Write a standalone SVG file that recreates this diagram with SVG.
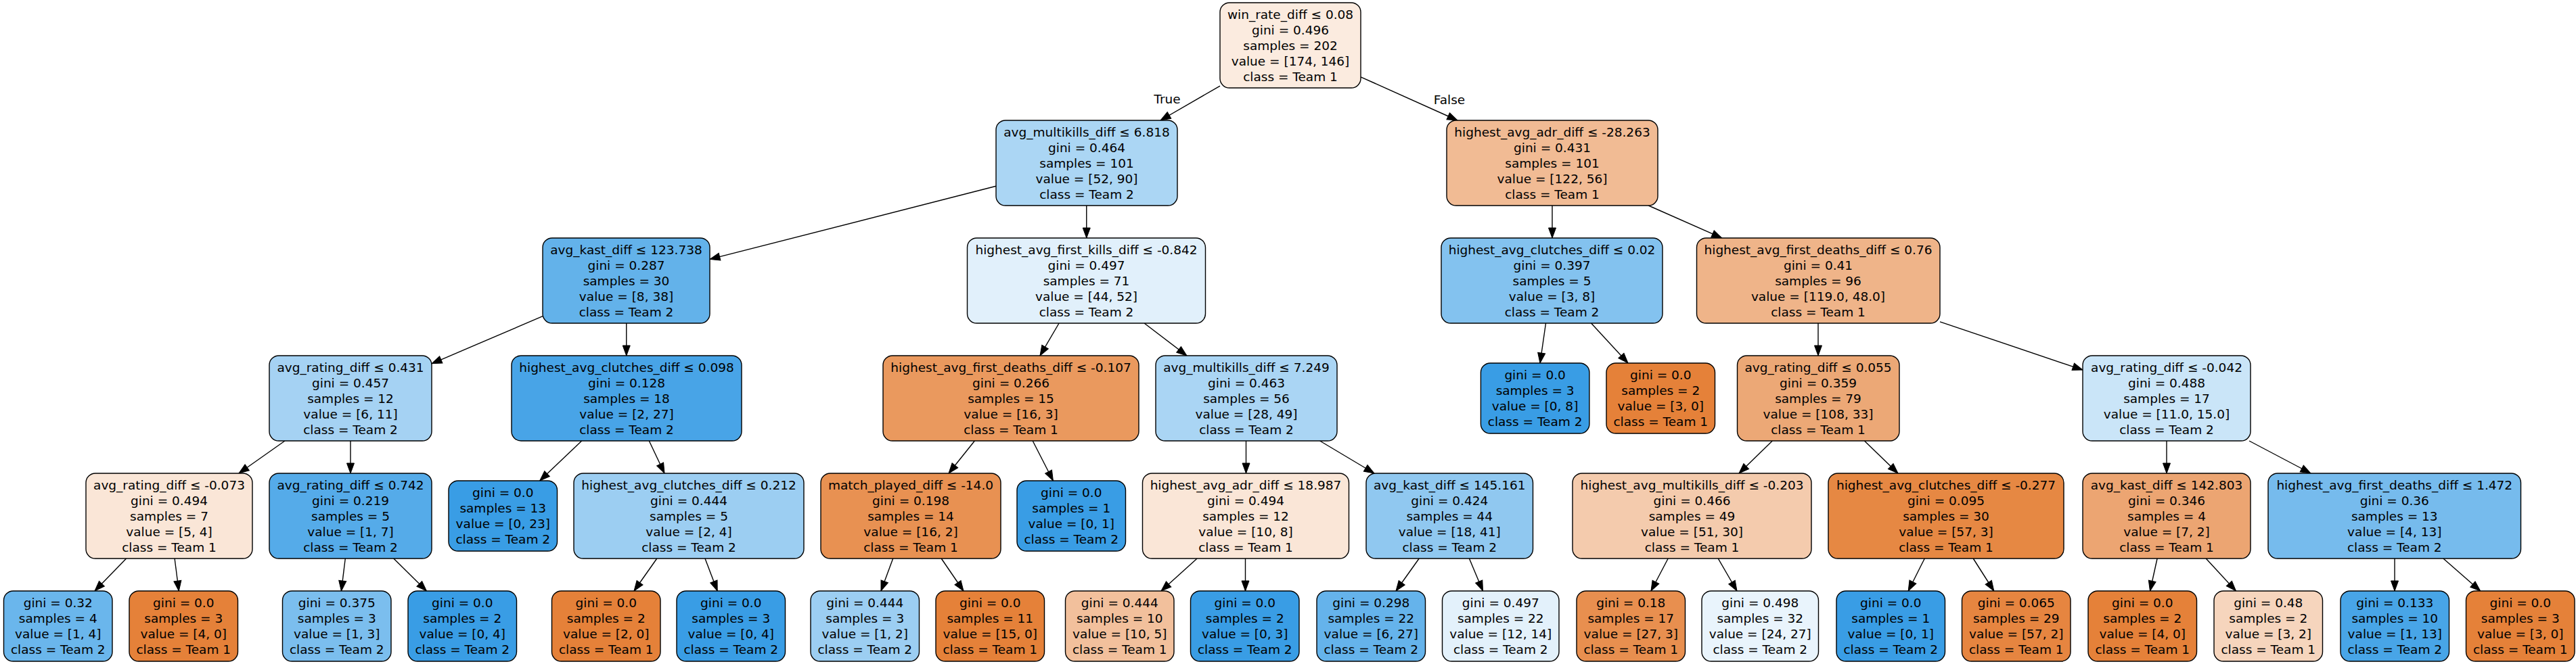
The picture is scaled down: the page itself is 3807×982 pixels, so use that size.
<svg xmlns="http://www.w3.org/2000/svg" width="3807" height="982" viewBox="0 0 3807 982">
<style>
.node rect { stroke:#000; stroke-width:1.4; }
text { font-family:"DejaVu Sans","Liberation Sans",sans-serif; font-size:18.5px; fill:#000; text-anchor:middle; }
#edges line { stroke:#000; stroke-width:1.4; marker-end:url(#arrow); }
</style>
<defs>
<marker id="arrow" markerUnits="userSpaceOnUse" markerWidth="15" markerHeight="11" refX="15" refY="5.5" orient="auto" overflow="visible">
<path d="M0,0 L15,5.5 L0,11 z" fill="#000" stroke="#000" stroke-width="1"/>
</marker>
</defs>
<rect x="0" y="0" width="3807" height="982" fill="#fff"/>
<g id="edges">
<line x1="1803" y1="127.1" x2="1715" y2="178"/>
<line x1="2011" y1="113.8" x2="2153.9" y2="178"/>
<line x1="1472" y1="275.3" x2="1049" y2="383.4"/>
<line x1="1605.75" y1="304" x2="1605.75" y2="352"/>
<line x1="802" y1="467.7" x2="638" y2="537.8"/>
<line x1="925.75" y1="478" x2="925.75" y2="526"/>
<line x1="421" y1="652" x2="353" y2="700"/>
<line x1="518" y1="652" x2="518" y2="700"/>
<line x1="186.6" y1="826" x2="140" y2="874"/>
<line x1="258.1" y1="826" x2="264.3" y2="874"/>
<line x1="510.3" y1="826" x2="504.4" y2="874"/>
<line x1="581.8" y1="826" x2="630.4" y2="874"/>
<line x1="859.7" y1="652" x2="797.7" y2="711"/>
<line x1="959.3" y1="652" x2="982" y2="700"/>
<line x1="970.8" y1="826" x2="937" y2="874"/>
<line x1="1042" y1="826" x2="1060.2" y2="874"/>
<line x1="1565.1" y1="478" x2="1537" y2="526"/>
<line x1="1691.1" y1="478" x2="1754" y2="526"/>
<line x1="1440.4" y1="652" x2="1402" y2="700"/>
<line x1="1526.2" y1="652" x2="1556.4" y2="711"/>
<line x1="1319.7" y1="826" x2="1302" y2="874"/>
<line x1="1391.2" y1="826" x2="1424" y2="874"/>
<line x1="1841.5" y1="652" x2="1841.5" y2="700"/>
<line x1="1950.6" y1="652" x2="2031" y2="700"/>
<line x1="1769.1" y1="826" x2="1716" y2="874"/>
<line x1="1840.5" y1="826" x2="1840.5" y2="874"/>
<line x1="2097.2" y1="826" x2="2063" y2="874"/>
<line x1="2171.4" y1="826" x2="2191.5" y2="874"/>
<line x1="2294" y1="304" x2="2294" y2="352"/>
<line x1="2436.3" y1="304" x2="2544.7" y2="352"/>
<line x1="2284.5" y1="478" x2="2276" y2="537"/>
<line x1="2351.6" y1="478" x2="2406" y2="537"/>
<line x1="2687" y1="478" x2="2687" y2="526"/>
<line x1="2867" y1="475.8" x2="3078" y2="547.1"/>
<line x1="2619.3" y1="652" x2="2570" y2="700"/>
<line x1="2755.4" y1="652" x2="2805" y2="700"/>
<line x1="2465.2" y1="826" x2="2440" y2="874"/>
<line x1="2539.2" y1="826" x2="2567" y2="874"/>
<line x1="2844.3" y1="826" x2="2820.2" y2="874"/>
<line x1="2916.2" y1="826" x2="2946.8" y2="874"/>
<line x1="3202" y1="652" x2="3202" y2="700"/>
<line x1="3324" y1="652" x2="3415" y2="700"/>
<line x1="3188.1" y1="826" x2="3177.5" y2="874"/>
<line x1="3260.2" y1="826" x2="3304.5" y2="874"/>
<line x1="3539" y1="826" x2="3539" y2="874"/>
<line x1="3610.9" y1="826" x2="3665.7" y2="874"/>
<text x="1725" y="153">True</text>
<text x="2142" y="154">False</text>
</g>

<g id="n0" class="node"><rect x="1803" y="4" width="208" height="126" rx="14" fill="#fbebdf"/><text y="27.6"><tspan x="1907">win_rate_diff ≤ 0.08</tspan><tspan x="1907" dy="23.1">gini = 0.496</tspan><tspan x="1907" dy="23.1">samples = 202</tspan><tspan x="1907" dy="23.1">value = [174, 146]</tspan><tspan x="1907" dy="23.1">class = Team 1</tspan></text></g>

<g id="n1" class="node"><rect x="1472" y="178" width="268" height="126" rx="14" fill="#abd6f4"/><text y="201.6"><tspan x="1606">avg_multikills_diff ≤ 6.818</tspan><tspan x="1606" dy="23.1">gini = 0.464</tspan><tspan x="1606" dy="23.1">samples = 101</tspan><tspan x="1606" dy="23.1">value = [52, 90]</tspan><tspan x="1606" dy="23.1">class = Team 2</tspan></text></g>

<g id="n28" class="node"><rect x="2138" y="178" width="312" height="126" rx="14" fill="#f1bb94"/><text y="201.6"><tspan x="2294">highest_avg_adr_diff ≤ -28.263</tspan><tspan x="2294" dy="23.1">gini = 0.431</tspan><tspan x="2294" dy="23.1">samples = 101</tspan><tspan x="2294" dy="23.1">value = [122, 56]</tspan><tspan x="2294" dy="23.1">class = Team 1</tspan></text></g>

<g id="n2" class="node"><rect x="802" y="352" width="247" height="126" rx="14" fill="#63b2ea"/><text y="375.6"><tspan x="925.5">avg_kast_diff ≤ 123.738</tspan><tspan x="925.5" dy="23.1">gini = 0.287</tspan><tspan x="925.5" dy="23.1">samples = 30</tspan><tspan x="925.5" dy="23.1">value = [8, 38]</tspan><tspan x="925.5" dy="23.1">class = Team 2</tspan></text></g>

<g id="n15" class="node"><rect x="1429.5" y="352" width="352" height="126" rx="14" fill="#e1f0fb"/><text y="375.6"><tspan x="1605.5">highest_avg_first_kills_diff ≤ -0.842</tspan><tspan x="1605.5" dy="23.1">gini = 0.497</tspan><tspan x="1605.5" dy="23.1">samples = 71</tspan><tspan x="1605.5" dy="23.1">value = [44, 52]</tspan><tspan x="1605.5" dy="23.1">class = Team 2</tspan></text></g>

<g id="n29" class="node"><rect x="2130" y="352" width="327" height="126" rx="14" fill="#83c2ef"/><text y="375.6"><tspan x="2293.5">highest_avg_clutches_diff ≤ 0.02</tspan><tspan x="2293.5" dy="23.1">gini = 0.397</tspan><tspan x="2293.5" dy="23.1">samples = 5</tspan><tspan x="2293.5" dy="23.1">value = [3, 8]</tspan><tspan x="2293.5" dy="23.1">class = Team 2</tspan></text></g>

<g id="n32" class="node"><rect x="2507.5" y="352" width="359.5" height="126" rx="14" fill="#efb489"/><text y="375.6"><tspan x="2687">highest_avg_first_deaths_diff ≤ 0.76</tspan><tspan x="2687" dy="23.1">gini = 0.41</tspan><tspan x="2687" dy="23.1">samples = 96</tspan><tspan x="2687" dy="23.1">value = [119.0, 48.0]</tspan><tspan x="2687" dy="23.1">class = Team 1</tspan></text></g>

<g id="n3" class="node"><rect x="398" y="526" width="240" height="126" rx="14" fill="#a5d2f3"/><text y="549.6"><tspan x="518">avg_rating_diff ≤ 0.431</tspan><tspan x="518" dy="23.1">gini = 0.457</tspan><tspan x="518" dy="23.1">samples = 12</tspan><tspan x="518" dy="23.1">value = [6, 11]</tspan><tspan x="518" dy="23.1">class = Team 2</tspan></text></g>

<g id="n10" class="node"><rect x="756" y="526" width="340" height="126" rx="14" fill="#48a4e7"/><text y="549.6"><tspan x="926">highest_avg_clutches_diff ≤ 0.098</tspan><tspan x="926" dy="23.1">gini = 0.128</tspan><tspan x="926" dy="23.1">samples = 18</tspan><tspan x="926" dy="23.1">value = [2, 27]</tspan><tspan x="926" dy="23.1">class = Team 2</tspan></text></g>

<g id="n16" class="node"><rect x="1305" y="526" width="378" height="126" rx="14" fill="#ea995e"/><text y="549.6"><tspan x="1494">highest_avg_first_deaths_diff ≤ -0.107</tspan><tspan x="1494" dy="23.1">gini = 0.266</tspan><tspan x="1494" dy="23.1">samples = 15</tspan><tspan x="1494" dy="23.1">value = [16, 3]</tspan><tspan x="1494" dy="23.1">class = Team 1</tspan></text></g>

<g id="n21" class="node"><rect x="1708" y="526" width="268" height="126" rx="14" fill="#aad5f4"/><text y="549.6"><tspan x="1842">avg_multikills_diff ≤ 7.249</tspan><tspan x="1842" dy="23.1">gini = 0.463</tspan><tspan x="1842" dy="23.1">samples = 56</tspan><tspan x="1842" dy="23.1">value = [28, 49]</tspan><tspan x="1842" dy="23.1">class = Team 2</tspan></text></g>

<g id="n30" class="node"><rect x="2188.4" y="537" width="160.5" height="104" rx="14" fill="#399de5"/><text y="561.15"><tspan x="2268.6">gini = 0.0</tspan><tspan x="2268.6" dy="23.1">samples = 3</tspan><tspan x="2268.6" dy="23.1">value = [0, 8]</tspan><tspan x="2268.6" dy="23.1">class = Team 2</tspan></text></g>

<g id="n31" class="node"><rect x="2374" y="537" width="160.5" height="104" rx="14" fill="#e58139"/><text y="561.15"><tspan x="2454.25">gini = 0.0</tspan><tspan x="2454.25" dy="23.1">samples = 2</tspan><tspan x="2454.25" dy="23.1">value = [3, 0]</tspan><tspan x="2454.25" dy="23.1">class = Team 1</tspan></text></g>

<g id="n33" class="node"><rect x="2567.5" y="526" width="239.5" height="126" rx="14" fill="#eca876"/><text y="549.6"><tspan x="2687">avg_rating_diff ≤ 0.055</tspan><tspan x="2687" dy="23.1">gini = 0.359</tspan><tspan x="2687" dy="23.1">samples = 79</tspan><tspan x="2687" dy="23.1">value = [108, 33]</tspan><tspan x="2687" dy="23.1">class = Team 1</tspan></text></g>

<g id="n40" class="node"><rect x="3078" y="526" width="248" height="126" rx="14" fill="#cae5f8"/><text y="549.6"><tspan x="3202">avg_rating_diff ≤ -0.042</tspan><tspan x="3202" dy="23.1">gini = 0.488</tspan><tspan x="3202" dy="23.1">samples = 17</tspan><tspan x="3202" dy="23.1">value = [11.0, 15.0]</tspan><tspan x="3202" dy="23.1">class = Team 2</tspan></text></g>

<g id="n4" class="node"><rect x="127" y="700" width="246" height="126" rx="14" fill="#fae6d7"/><text y="723.6"><tspan x="250">avg_rating_diff ≤ -0.073</tspan><tspan x="250" dy="23.1">gini = 0.494</tspan><tspan x="250" dy="23.1">samples = 7</tspan><tspan x="250" dy="23.1">value = [5, 4]</tspan><tspan x="250" dy="23.1">class = Team 1</tspan></text></g>

<g id="n7" class="node"><rect x="398" y="700" width="240" height="126" rx="14" fill="#55abe9"/><text y="723.6"><tspan x="518">avg_rating_diff ≤ 0.742</tspan><tspan x="518" dy="23.1">gini = 0.219</tspan><tspan x="518" dy="23.1">samples = 5</tspan><tspan x="518" dy="23.1">value = [1, 7]</tspan><tspan x="518" dy="23.1">class = Team 2</tspan></text></g>

<g id="n11" class="node"><rect x="663" y="711" width="160.5" height="104" rx="14" fill="#399de5"/><text y="735.15"><tspan x="743.25">gini = 0.0</tspan><tspan x="743.25" dy="23.1">samples = 13</tspan><tspan x="743.25" dy="23.1">value = [0, 23]</tspan><tspan x="743.25" dy="23.1">class = Team 2</tspan></text></g>

<g id="n12" class="node"><rect x="848" y="700" width="340" height="126" rx="14" fill="#9ccef2"/><text y="723.6"><tspan x="1018">highest_avg_clutches_diff ≤ 0.212</tspan><tspan x="1018" dy="23.1">gini = 0.444</tspan><tspan x="1018" dy="23.1">samples = 5</tspan><tspan x="1018" dy="23.1">value = [2, 4]</tspan><tspan x="1018" dy="23.1">class = Team 2</tspan></text></g>

<g id="n17" class="node"><rect x="1213" y="700" width="266" height="126" rx="14" fill="#e89152"/><text y="723.6"><tspan x="1346">match_played_diff ≤ -14.0</tspan><tspan x="1346" dy="23.1">gini = 0.198</tspan><tspan x="1346" dy="23.1">samples = 14</tspan><tspan x="1346" dy="23.1">value = [16, 2]</tspan><tspan x="1346" dy="23.1">class = Team 1</tspan></text></g>

<g id="n20" class="node"><rect x="1503" y="711" width="160.5" height="104" rx="14" fill="#399de5"/><text y="735.15"><tspan x="1583.25">gini = 0.0</tspan><tspan x="1583.25" dy="23.1">samples = 1</tspan><tspan x="1583.25" dy="23.1">value = [0, 1]</tspan><tspan x="1583.25" dy="23.1">class = Team 2</tspan></text></g>

<g id="n22" class="node"><rect x="1688.5" y="700" width="305" height="126" rx="14" fill="#fae6d7"/><text y="723.6"><tspan x="1841">highest_avg_adr_diff ≤ 18.987</tspan><tspan x="1841" dy="23.1">gini = 0.494</tspan><tspan x="1841" dy="23.1">samples = 12</tspan><tspan x="1841" dy="23.1">value = [10, 8]</tspan><tspan x="1841" dy="23.1">class = Team 1</tspan></text></g>

<g id="n25" class="node"><rect x="2019" y="700" width="246.5" height="126" rx="14" fill="#90c8f0"/><text y="723.6"><tspan x="2142.25">avg_kast_diff ≤ 145.161</tspan><tspan x="2142.25" dy="23.1">gini = 0.424</tspan><tspan x="2142.25" dy="23.1">samples = 44</tspan><tspan x="2142.25" dy="23.1">value = [18, 41]</tspan><tspan x="2142.25" dy="23.1">class = Team 2</tspan></text></g>

<g id="n34" class="node"><rect x="2324" y="700" width="353" height="126" rx="14" fill="#f4cbad"/><text y="723.6"><tspan x="2500.5">highest_avg_multikills_diff ≤ -0.203</tspan><tspan x="2500.5" dy="23.1">gini = 0.466</tspan><tspan x="2500.5" dy="23.1">samples = 49</tspan><tspan x="2500.5" dy="23.1">value = [51, 30]</tspan><tspan x="2500.5" dy="23.1">class = Team 1</tspan></text></g>

<g id="n37" class="node"><rect x="2702" y="700" width="348" height="126" rx="14" fill="#e68843"/><text y="723.6"><tspan x="2876">highest_avg_clutches_diff ≤ -0.277</tspan><tspan x="2876" dy="23.1">gini = 0.095</tspan><tspan x="2876" dy="23.1">samples = 30</tspan><tspan x="2876" dy="23.1">value = [57, 3]</tspan><tspan x="2876" dy="23.1">class = Team 1</tspan></text></g>

<g id="n41" class="node"><rect x="3078" y="700" width="248" height="126" rx="14" fill="#eca572"/><text y="723.6"><tspan x="3202">avg_kast_diff ≤ 142.803</tspan><tspan x="3202" dy="23.1">gini = 0.346</tspan><tspan x="3202" dy="23.1">samples = 4</tspan><tspan x="3202" dy="23.1">value = [7, 2]</tspan><tspan x="3202" dy="23.1">class = Team 1</tspan></text></g>

<g id="n44" class="node"><rect x="3352" y="700" width="373.5" height="126" rx="14" fill="#76bbed"/><text y="723.6"><tspan x="3538.75">highest_avg_first_deaths_diff ≤ 1.472</tspan><tspan x="3538.75" dy="23.1">gini = 0.36</tspan><tspan x="3538.75" dy="23.1">samples = 13</tspan><tspan x="3538.75" dy="23.1">value = [4, 13]</tspan><tspan x="3538.75" dy="23.1">class = Team 2</tspan></text></g>

<g id="n5" class="node"><rect x="5.5" y="874" width="160.5" height="104" rx="14" fill="#6ab6ec"/><text y="898.15"><tspan x="85.75">gini = 0.32</tspan><tspan x="85.75" dy="23.1">samples = 4</tspan><tspan x="85.75" dy="23.1">value = [1, 4]</tspan><tspan x="85.75" dy="23.1">class = Team 2</tspan></text></g>

<g id="n6" class="node"><rect x="191" y="874" width="160.5" height="104" rx="14" fill="#e58139"/><text y="898.15"><tspan x="271.25">gini = 0.0</tspan><tspan x="271.25" dy="23.1">samples = 3</tspan><tspan x="271.25" dy="23.1">value = [4, 0]</tspan><tspan x="271.25" dy="23.1">class = Team 1</tspan></text></g>

<g id="n8" class="node"><rect x="417.5" y="874" width="160.5" height="104" rx="14" fill="#7bbeee"/><text y="898.15"><tspan x="497.75">gini = 0.375</tspan><tspan x="497.75" dy="23.1">samples = 3</tspan><tspan x="497.75" dy="23.1">value = [1, 3]</tspan><tspan x="497.75" dy="23.1">class = Team 2</tspan></text></g>

<g id="n9" class="node"><rect x="603" y="874" width="160.5" height="104" rx="14" fill="#399de5"/><text y="898.15"><tspan x="683.25">gini = 0.0</tspan><tspan x="683.25" dy="23.1">samples = 2</tspan><tspan x="683.25" dy="23.1">value = [0, 4]</tspan><tspan x="683.25" dy="23.1">class = Team 2</tspan></text></g>

<g id="n13" class="node"><rect x="815.5" y="874" width="160.5" height="104" rx="14" fill="#e58139"/><text y="898.15"><tspan x="895.75">gini = 0.0</tspan><tspan x="895.75" dy="23.1">samples = 2</tspan><tspan x="895.75" dy="23.1">value = [2, 0]</tspan><tspan x="895.75" dy="23.1">class = Team 1</tspan></text></g>

<g id="n14" class="node"><rect x="1000" y="874" width="160.5" height="104" rx="14" fill="#399de5"/><text y="898.15"><tspan x="1080.25">gini = 0.0</tspan><tspan x="1080.25" dy="23.1">samples = 3</tspan><tspan x="1080.25" dy="23.1">value = [0, 4]</tspan><tspan x="1080.25" dy="23.1">class = Team 2</tspan></text></g>

<g id="n18" class="node"><rect x="1198" y="874" width="160.5" height="104" rx="14" fill="#9ccef2"/><text y="898.15"><tspan x="1278.25">gini = 0.444</tspan><tspan x="1278.25" dy="23.1">samples = 3</tspan><tspan x="1278.25" dy="23.1">value = [1, 2]</tspan><tspan x="1278.25" dy="23.1">class = Team 2</tspan></text></g>

<g id="n19" class="node"><rect x="1383" y="874" width="160.5" height="104" rx="14" fill="#e58139"/><text y="898.15"><tspan x="1463.25">gini = 0.0</tspan><tspan x="1463.25" dy="23.1">samples = 11</tspan><tspan x="1463.25" dy="23.1">value = [15, 0]</tspan><tspan x="1463.25" dy="23.1">class = Team 1</tspan></text></g>

<g id="n23" class="node"><rect x="1574.5" y="874" width="160.5" height="104" rx="14" fill="#f2c09c"/><text y="898.15"><tspan x="1654.75">gini = 0.444</tspan><tspan x="1654.75" dy="23.1">samples = 10</tspan><tspan x="1654.75" dy="23.1">value = [10, 5]</tspan><tspan x="1654.75" dy="23.1">class = Team 1</tspan></text></g>

<g id="n24" class="node"><rect x="1759.5" y="874" width="160.5" height="104" rx="14" fill="#399de5"/><text y="898.15"><tspan x="1839.75">gini = 0.0</tspan><tspan x="1839.75" dy="23.1">samples = 2</tspan><tspan x="1839.75" dy="23.1">value = [0, 3]</tspan><tspan x="1839.75" dy="23.1">class = Team 2</tspan></text></g>

<g id="n26" class="node"><rect x="1946" y="874" width="160.5" height="104" rx="14" fill="#65b3eb"/><text y="898.15"><tspan x="2026.25">gini = 0.298</tspan><tspan x="2026.25" dy="23.1">samples = 22</tspan><tspan x="2026.25" dy="23.1">value = [6, 27]</tspan><tspan x="2026.25" dy="23.1">class = Team 2</tspan></text></g>

<g id="n27" class="node"><rect x="2131.5" y="874" width="172.5" height="104" rx="14" fill="#e3f1fb"/><text y="898.15"><tspan x="2217.75">gini = 0.497</tspan><tspan x="2217.75" dy="23.1">samples = 22</tspan><tspan x="2217.75" dy="23.1">value = [12, 14]</tspan><tspan x="2217.75" dy="23.1">class = Team 2</tspan></text></g>

<g id="n35" class="node"><rect x="2330" y="874" width="160.5" height="104" rx="14" fill="#e88f4f"/><text y="898.15"><tspan x="2410.25">gini = 0.18</tspan><tspan x="2410.25" dy="23.1">samples = 17</tspan><tspan x="2410.25" dy="23.1">value = [27, 3]</tspan><tspan x="2410.25" dy="23.1">class = Team 1</tspan></text></g>

<g id="n36" class="node"><rect x="2515" y="874" width="172.5" height="104" rx="14" fill="#e9f4fc"/><text y="898.15"><tspan x="2601.25">gini = 0.498</tspan><tspan x="2601.25" dy="23.1">samples = 32</tspan><tspan x="2601.25" dy="23.1">value = [24, 27]</tspan><tspan x="2601.25" dy="23.1">class = Team 2</tspan></text></g>

<g id="n38" class="node"><rect x="2714" y="874" width="160.5" height="104" rx="14" fill="#399de5"/><text y="898.15"><tspan x="2794.25">gini = 0.0</tspan><tspan x="2794.25" dy="23.1">samples = 1</tspan><tspan x="2794.25" dy="23.1">value = [0, 1]</tspan><tspan x="2794.25" dy="23.1">class = Team 2</tspan></text></g>

<g id="n39" class="node"><rect x="2899.5" y="874" width="160.5" height="104" rx="14" fill="#e68540"/><text y="898.15"><tspan x="2979.75">gini = 0.065</tspan><tspan x="2979.75" dy="23.1">samples = 29</tspan><tspan x="2979.75" dy="23.1">value = [57, 2]</tspan><tspan x="2979.75" dy="23.1">class = Team 1</tspan></text></g>

<g id="n42" class="node"><rect x="3086" y="874" width="160.5" height="104" rx="14" fill="#e58139"/><text y="898.15"><tspan x="3166.25">gini = 0.0</tspan><tspan x="3166.25" dy="23.1">samples = 2</tspan><tspan x="3166.25" dy="23.1">value = [4, 0]</tspan><tspan x="3166.25" dy="23.1">class = Team 1</tspan></text></g>

<g id="n43" class="node"><rect x="3272" y="874" width="160.5" height="104" rx="14" fill="#f6d5bd"/><text y="898.15"><tspan x="3352.25">gini = 0.48</tspan><tspan x="3352.25" dy="23.1">samples = 2</tspan><tspan x="3352.25" dy="23.1">value = [3, 2]</tspan><tspan x="3352.25" dy="23.1">class = Team 1</tspan></text></g>

<g id="n45" class="node"><rect x="3459" y="874" width="160.5" height="104" rx="14" fill="#48a5e7"/><text y="898.15"><tspan x="3539.25">gini = 0.133</tspan><tspan x="3539.25" dy="23.1">samples = 10</tspan><tspan x="3539.25" dy="23.1">value = [1, 13]</tspan><tspan x="3539.25" dy="23.1">class = Team 2</tspan></text></g>

<g id="n46" class="node"><rect x="3644.5" y="874" width="160.5" height="104" rx="14" fill="#e58139"/><text y="898.15"><tspan x="3724.75">gini = 0.0</tspan><tspan x="3724.75" dy="23.1">samples = 3</tspan><tspan x="3724.75" dy="23.1">value = [3, 0]</tspan><tspan x="3724.75" dy="23.1">class = Team 1</tspan></text></g>
</svg>
